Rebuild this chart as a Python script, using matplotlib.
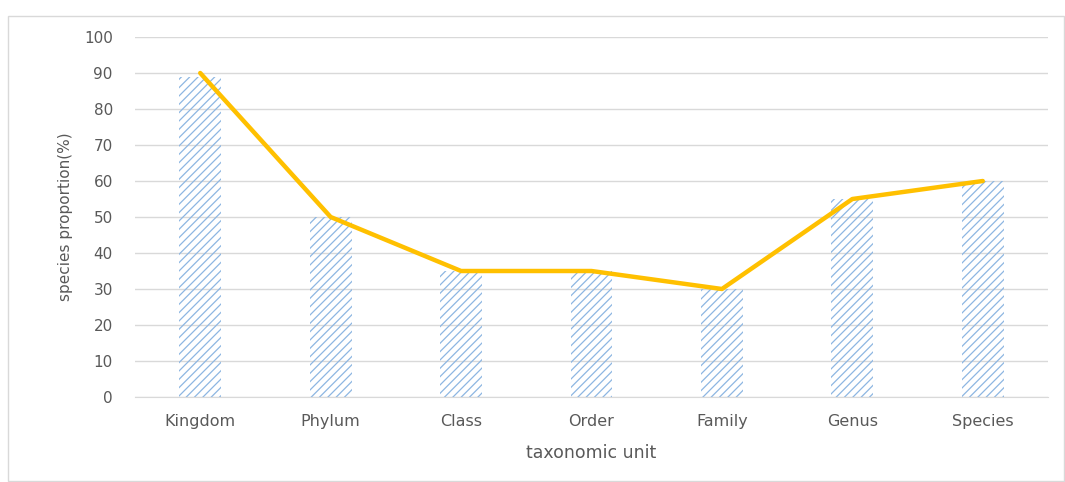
import matplotlib
matplotlib.use("Agg")
import matplotlib.pyplot as plt
from matplotlib.patches import Rectangle

categories = ["Kingdom", "Phylum", "Class", "Order", "Family", "Genus", "Species"]
bar_values = [89, 50, 35, 35, 30, 55, 60]
line_values = [90, 50, 35, 35, 30, 55, 60]
y_ticks = list(range(0, 101, 10))

plt.rcParams['font.family'] = ['DejaVu Sans']
plt.rcParams['hatch.linewidth'] = 0.9

fig = plt.figure(figsize=(10.65, 4.82), dpi=100)
fig.patches.append(Rectangle((8/1065, 0.002), (1065-9)/1065, (480-15)/482,
                             transform=fig.transFigure, fill=False,
                             edgecolor="#d9d9d9", linewidth=1.0))
ax = fig.add_axes([135/1065, 85/482, 913/1065, 360/482])

x = list(range(len(categories)))
ax.bar(x, bar_values, width=0.32, color="none", edgecolor="#8db6e2",
       hatch="////", linewidth=0, zorder=2)
ax.plot(x, line_values, color="#ffc000", linewidth=3.2, zorder=3,
        solid_joinstyle="round", solid_capstyle="round")

ax.set_xlim(-0.5, len(categories) - 0.5)
ax.set_ylim(0, 100)
ax.set_yticks(y_ticks)
ax.set_xticks(x)
ax.set_xticklabels(categories, fontsize=11.5)
ax.yaxis.grid(True, color="#d9d9d9", linewidth=1.0, zorder=0)
ax.set_axisbelow(True)
for s in ["top", "right", "left"]:
    ax.spines[s].set_visible(False)
ax.spines["bottom"].set_color("#d9d9d9")
ax.tick_params(axis="both", length=0, colors="#595959")
ax.tick_params(axis="y", pad=16, labelsize=11)
ax.tick_params(axis="x", pad=12)
ax.set_ylabel("species proportion(%)", color="#595959", fontsize=11, labelpad=8)
ax.set_xlabel("taxonomic unit", color="#595959", fontsize=12.5, labelpad=11)

fig.savefig("out.png", dpi=100)
